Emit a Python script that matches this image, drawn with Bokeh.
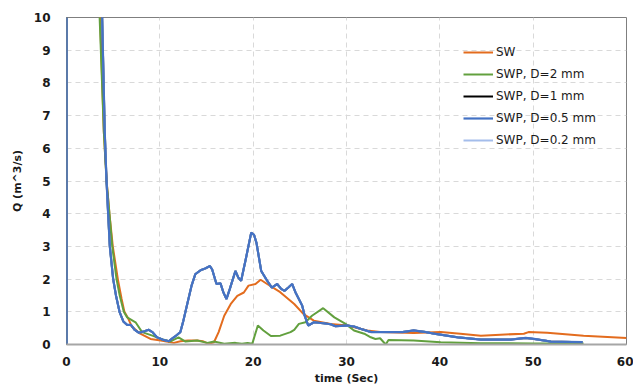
from bokeh.plotting import figure
from bokeh.models import Legend, LegendItem, Range1d, FixedTicker
from bokeh.embed import file_html
from bokeh.resources import INLINE

# ---- data ----
t_sw = [0, 0, 3.6, 4.0, 4.3, 4.6, 4.96, 5.5, 5.9, 6.2, 6.6, 7.0, 7.9, 9.0, 10.1, 11.5, 12.2, 13.0,
        14.0, 14.6, 15.25, 15.8, 16.3, 16.9, 17.6, 18.3, 19.0, 19.5, 20.25, 20.8, 21.5, 22.9,
        24.4, 25.4, 26.5, 28.3, 30.1, 32.2, 33.6, 37.2, 40.1, 42.2, 44.4, 46.5, 49.0, 49.5,
        51.5, 55.4, 60.0]
q_sw = [0, 25, 10, 6.5, 5, 4, 3, 2, 1.4, 1.0, 0.8, 0.55, 0.33, 0.17, 0.12, 0.05, 0.1, 0.12,
        0.12, 0.1, 0.02, 0.07, 0.38, 0.88, 1.24, 1.49, 1.59, 1.8, 1.85, 1.98, 1.85, 1.6,
        1.24, 0.93, 0.73, 0.63, 0.58, 0.43, 0.38, 0.35, 0.38, 0.33, 0.27, 0.3, 0.33, 0.38,
        0.36, 0.27, 0.2]

t_d2 = [0, 0, 3.55, 4.0, 4.29, 4.6, 4.9, 5.36, 5.7, 6.14, 6.5, 7.4, 8.1, 9.2, 10.1, 11.1, 12.0,
        12.75, 14.0, 15.1, 15.8, 16.9, 18.1, 18.8, 19.4, 19.9, 20.5, 21.1, 21.9, 22.9, 24.0,
        24.4, 24.9, 25.6, 26.3, 27.5, 28.7, 29.9, 30.8, 31.9, 32.6, 33.1, 33.6, 34.2, 34.5,
        37.2, 40.1, 44.4, 50.0, 55.4]
q_d2 = [0, 25, 10, 6.5, 5, 4, 3, 2, 1.5, 1.0, 0.83, 0.68, 0.38, 0.27, 0.17, 0.09, 0.22,
        0.09, 0.12, 0.05, 0.09, 0.02, 0.05, 0.02, 0.05, 0.02, 0.58, 0.43, 0.26, 0.27, 0.38,
        0.45, 0.63, 0.68, 0.88, 1.11, 0.83, 0.63, 0.43, 0.33, 0.22, 0.17, 0.19, 0.0, 0.14,
        0.12, 0.07, 0.04, 0.03, 0.03]

t_d05 = [0, 0, 3.6, 3.82, 4.1, 4.29, 4.46, 4.64, 5.0, 5.3, 5.68, 6.1, 6.5, 6.9, 7.3, 7.75, 8.3,
         8.8, 9.2, 9.7, 10.3, 10.96, 11.4, 11.7, 12.2, 12.5, 12.9, 13.4, 13.8, 14.36, 14.9,
         15.36, 15.6, 16.07, 16.5, 16.8, 17.14, 17.5, 18.1, 18.4, 18.71, 19.2, 19.79, 20.1,
         20.36, 20.86, 21.5, 22.0, 22.57, 23.0, 23.36, 23.8, 24.18, 24.54, 25.25, 25.5, 25.9,
         26.5, 27.5, 28.3, 28.8, 30.1, 30.8, 31.5, 32.6, 34.7, 36.0, 37.2, 38.5, 39.4, 41.9,
         44.4, 47.6, 49.2, 50.1, 51.9, 55.3]
q_d05 = [0, 25, 14, 10, 6.5, 5, 4, 3, 2, 1.5, 1.0, 0.7, 0.6, 0.6, 0.45, 0.36, 0.4,
         0.45, 0.38, 0.22, 0.15, 0.1, 0.2, 0.26, 0.38, 0.7, 1.19, 1.8, 2.15, 2.27, 2.33,
         2.4, 2.3, 1.85, 1.87, 1.6, 1.39, 1.7, 2.25, 2.05, 1.95, 2.6, 3.42, 3.35,
         3.1, 2.25, 1.95, 1.74, 1.85, 1.7, 1.64, 1.75, 1.85, 1.59, 1.19, 0.9, 0.58,
         0.68, 0.65, 0.62, 0.56, 0.58, 0.55, 0.48, 0.38, 0.38, 0.38, 0.43, 0.38, 0.33, 0.22,
         0.15, 0.15, 0.2, 0.17, 0.09, 0.07]

# D=1 mm and D=0.2 mm lie under the D=0.5 mm curve in the reference
t_d1 = list(t_d05)
q_d1 = list(q_d05)
t_d02 = list(t_d05)
q_d02 = list(q_d05)

labels = ["SW", "SWP, D=2 mm", "SWP, D=1 mm", "SWP, D=0.5 mm", "SWP, D=0.2 mm"]
colors = ["#E36C1E", "#62A03E", "#000000", "#4472C4", "#A4BDEB"]
x_ticks = [0, 10, 20, 30, 40, 50, 60]
y_ticks = [0, 1, 2, 3, 4, 5, 6, 7, 8, 9, 10]

p = figure(width=633, height=387, x_range=Range1d(0, 60), y_range=Range1d(0, 10),
           output_backend="svg", toolbar_location=None,
           min_border_left=66, min_border_right=7, min_border_top=17, min_border_bottom=41)
p.background_fill_color = "white"
p.border_fill_color = "white"
p.outline_line_color = "#7F7F7F"
p.outline_line_width = 1

p.xaxis.ticker = FixedTicker(ticks=x_ticks)
p.yaxis.ticker = FixedTicker(ticks=y_ticks)
p.xgrid.ticker = FixedTicker(ticks=x_ticks[1:-1])
p.ygrid.ticker = FixedTicker(ticks=y_ticks[1:-1])
for g in (p.xgrid, p.ygrid):
    g.grid_line_color = "#D9D9D9"
    g.grid_line_dash = "5 4"
    g.grid_line_width = 1

for ax in (p.xaxis, p.yaxis):
    ax.major_tick_line_color = None
    ax.minor_tick_line_color = None
    ax.major_tick_out = 0
    ax.major_tick_in = 0
    ax.major_label_text_font = "DejaVu Sans"
    ax.major_label_text_font_style = "bold"
    ax.major_label_text_font_size = "12px"
    ax.major_label_text_color = "#1A1A1A"
    ax.axis_label_text_font = "DejaVu Sans"
    ax.axis_label_text_font_style = "bold"
    ax.axis_label_text_font_size = "11px"
    ax.axis_label_text_color = "#1A1A1A"

p.xaxis.axis_line_color = "#A6A6A6"
p.xaxis.axis_line_width = 2
p.yaxis.axis_line_color = None
p.xaxis.axis_label = "time (Sec)"
p.yaxis.axis_label = "Q (m^3/s)"
p.xaxis.major_label_standoff = 12
p.xaxis.axis_label_standoff = 3
p.yaxis.major_label_standoff = 16
p.yaxis.axis_label_standoff = 7

r_sw = p.line(t_sw, q_sw, line_color=colors[0], line_width=2)
r_d2 = p.line(t_d2, q_d2, line_color=colors[1], line_width=2)
r_d1 = p.line(t_d1, q_d1, line_color=colors[2], line_width=2)
r_d02 = p.line(t_d02, q_d02, line_color=colors[4], line_width=2)
r_d05 = p.line(t_d05, q_d05, line_color=colors[3], line_width=2.2)

items = [LegendItem(label=labels[0], renderers=[r_sw]),
         LegendItem(label=labels[1], renderers=[r_d2]),
         LegendItem(label=labels[2], renderers=[r_d1]),
         LegendItem(label=labels[3], renderers=[r_d05]),
         LegendItem(label=labels[4], renderers=[r_d02])]
legend = Legend(items=items, location=(397, 197), orientation="vertical",
                glyph_width=30, glyph_height=14, label_height=14, label_standoff=3,
                spacing=8, padding=0, margin=0, border_line_color=None,
                background_fill_alpha=0,
                label_text_font="DejaVu Sans", label_text_font_size="12px",
                label_text_color="#1A1A1A")
p.add_layout(legend)

open("out.html", "w").write(file_html(p, INLINE))
